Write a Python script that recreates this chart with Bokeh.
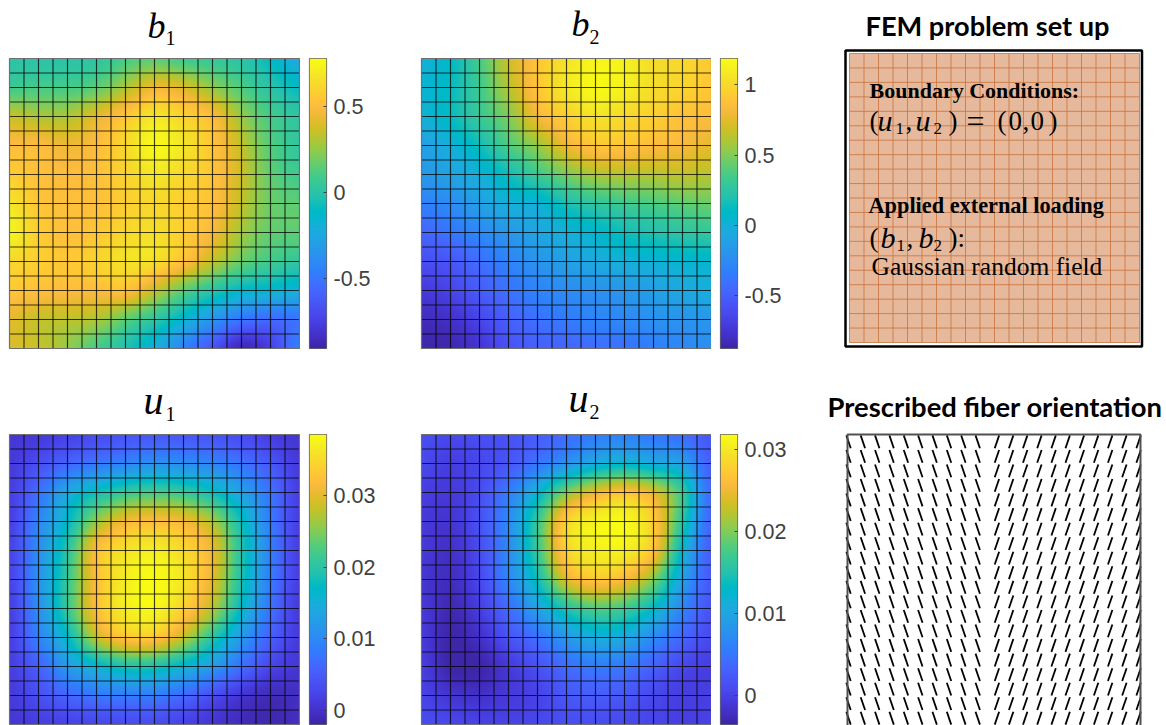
import numpy as np
from bokeh.embed import file_html
from bokeh.resources import INLINE
from bokeh.layouts import column, row
from bokeh.models import FixedTicker, Label, LinearColorMapper, Range1d
from bokeh.plotting import figure

# Field values, at every second mesh node, top row first.
b1_values = [
    [0.00, 0.00, 0.00, 0.02, 0.10, 0.15, 0.08, 0.05, 0.00, -0.10, -0.25],
    [0.08, 0.10, 0.10, 0.15, 0.30, 0.45, 0.40, 0.25, 0.12, 0.00, -0.10],
    [0.35, 0.30, 0.30, 0.42, 0.55, 0.68, 0.60, 0.50, 0.26, 0.10, 0.02],
    [0.50, 0.50, 0.45, 0.50, 0.62, 0.76, 0.68, 0.54, 0.34, 0.13, 0.03],
    [0.58, 0.52, 0.50, 0.52, 0.60, 0.68, 0.62, 0.54, 0.36, 0.16, 0.08],
    [0.68, 0.55, 0.52, 0.52, 0.58, 0.62, 0.58, 0.52, 0.34, 0.18, 0.15],
    [0.74, 0.58, 0.52, 0.55, 0.62, 0.65, 0.58, 0.47, 0.28, 0.16, 0.15],
    [0.62, 0.58, 0.55, 0.60, 0.66, 0.65, 0.52, 0.34, 0.17, 0.08, 0.03],
    [0.55, 0.52, 0.50, 0.50, 0.52, 0.35, 0.15, 0.00, -0.12, -0.15, -0.20],
    [0.42, 0.35, 0.33, 0.30, 0.15, 0.02, -0.15, -0.35, -0.50, -0.55, -0.50],
    [0.40, 0.35, 0.25, 0.10, -0.03, -0.20, -0.45, -0.65, -0.88, -0.75, -0.45],
]
b2_values = [
    [0.00, 0.10, 0.35, 0.68, 0.90, 1.05, 1.15, 1.12, 1.02, 1.00, 0.92],
    [0.03, 0.12, 0.33, 0.62, 0.90, 1.08, 1.17, 1.12, 1.02, 0.98, 0.90],
    [0.00, 0.12, 0.30, 0.50, 0.80, 0.95, 1.05, 1.00, 0.95, 0.88, 0.85],
    [-0.12, 0.00, 0.15, 0.37, 0.55, 0.78, 0.90, 0.90, 0.85, 0.82, 0.75],
    [-0.18, -0.10, 0.00, 0.15, 0.32, 0.48, 0.60, 0.62, 0.62, 0.65, 0.62],
    [-0.32, -0.25, -0.12, 0.00, 0.02, 0.18, 0.27, 0.33, 0.37, 0.42, 0.45],
    [-0.47, -0.38, -0.27, -0.18, -0.08, 0.00, 0.07, 0.15, 0.20, 0.25, 0.28],
    [-0.60, -0.55, -0.42, -0.30, -0.20, -0.12, -0.05, 0.00, 0.02, 0.05, 0.06],
    [-0.72, -0.65, -0.52, -0.40, -0.30, -0.25, -0.22, -0.18, -0.12, -0.06, -0.02],
    [-0.82, -0.78, -0.65, -0.50, -0.40, -0.35, -0.30, -0.27, -0.22, -0.20, -0.18],
    [-0.86, -0.85, -0.75, -0.58, -0.50, -0.47, -0.42, -0.40, -0.33, -0.28, -0.22],
]
u1_values = [
    [0.0005, 0.001, 0.002, 0.003, 0.004, 0.0045, 0.0045, 0.004, 0.003, 0.0015, 0.0005],
    [0.001, 0.0035, 0.006, 0.008, 0.0095, 0.011, 0.0105, 0.0095, 0.0075, 0.0045, 0.001],
    [0.0015, 0.007, 0.014, 0.018, 0.021, 0.022, 0.021, 0.018, 0.013, 0.0075, 0.0015],
    [0.0015, 0.0095, 0.017, 0.026, 0.031, 0.032, 0.031, 0.027, 0.018, 0.0085, 0.0015],
    [0.002, 0.0105, 0.020, 0.032, 0.036, 0.037, 0.035, 0.0305, 0.0195, 0.009, 0.0015],
    [0.002, 0.011, 0.021, 0.032, 0.037, 0.0385, 0.036, 0.030, 0.019, 0.0085, 0.0015],
    [0.0015, 0.0105, 0.021, 0.032, 0.037, 0.038, 0.034, 0.0275, 0.017, 0.0075, 0.001],
    [0.0015, 0.009, 0.017, 0.028, 0.033, 0.033, 0.028, 0.020, 0.012, 0.0055, 0.001],
    [0.0015, 0.0055, 0.012, 0.016, 0.019, 0.019, 0.016, 0.012, 0.007, 0.0025, 0.0005],
    [0.001, 0.0035, 0.006, 0.008, 0.0085, 0.0085, 0.0065, 0.0035, 0.0005, -0.001, -0.0005],
    [0.0005, 0.0015, 0.002, 0.0025, 0.003, 0.003, 0.002, 0.0005, -0.001, -0.0015, -0.0005],
]
u2_values = [
    [0.001, 0.0005, 0.001, 0.0015, 0.0025, 0.004, 0.0055, 0.006, 0.005, 0.004, 0.002],
    [0.0005, -0.0005, 0.0005, 0.002, 0.005, 0.008, 0.011, 0.0125, 0.011, 0.0095, 0.0025],
    [-0.0005, -0.001, 0.001, 0.0055, 0.012, 0.020, 0.0245, 0.0265, 0.024, 0.0165, 0.0035],
    [-0.001, -0.0015, 0.0015, 0.007, 0.0165, 0.028, 0.031, 0.0315, 0.0275, 0.0155, 0.003],
    [-0.001, -0.002, 0.001, 0.007, 0.0165, 0.028, 0.0305, 0.0305, 0.0265, 0.0125, 0.0025],
    [-0.0015, -0.0025, 0.0005, 0.0065, 0.014, 0.024, 0.027, 0.0255, 0.020, 0.0095, 0.002],
    [-0.001, -0.003, -0.0005, 0.004, 0.0095, 0.015, 0.018, 0.017, 0.013, 0.0065, 0.0015],
    [-0.001, -0.0035, -0.002, 0.0015, 0.0045, 0.0085, 0.011, 0.0105, 0.007, 0.0035, 0.0005],
    [-0.0005, -0.0035, -0.0035, -0.001, 0.0015, 0.004, 0.0055, 0.005, 0.003, 0.0005, -0.0005],
    [0.0, -0.0015, -0.002, -0.001, 0.0, 0.002, 0.0025, 0.002, 0.0005, -0.0005, -0.0005],
    [0.001, 0.0005, 0.0, 0.0, 0.0005, 0.001, 0.001, 0.0005, 0.0003, -0.0003, 0.0],
]
b1_limits = (-0.904, 0.776)
b2_limits = (-0.873, 1.185)
u1_limits = (-0.002, 0.0386)
u2_limits = (-0.0036, 0.0318)
b1_ticks = [-0.5, 0, 0.5]
b2_ticks = [-0.5, 0, 0.5, 1]
u1_ticks = [0, 0.01, 0.02, 0.03]
u2_ticks = [0, 0.01, 0.02, 0.03]
b_tick_labels = {-0.5: "-0.5", 0: "0", 0.5: "0.5", 1: "1"}
u_tick_labels = {0: "0", 0.01: "0.01", 0.02: "0.02", 0.03: "0.03"}

fiber_left_columns = [0.07, 1.05, 2.03, 3.01, 3.99, 4.97, 5.95, 6.93, 7.91, 8.89]
fiber_right_columns = [10.2, 11.17, 12.13, 13.1, 14.07, 15.03, 16.0, 16.97, 17.93, 18.9, 19.87]
fiber_rows = [19.5, 18.5, 17.5, 16.5, 15.5, 14.5, 13.5, 12.5, 11.5, 10.5, 9.5, 8.5, 7.5, 6.5, 5.5, 4.5, 3.5, 2.5, 1.5, 0.5, -0.5]
fiber_dx = 0.15
fiber_dy = 0.44

parula_rgb = [
    [0.2422,0.1504,0.6603],[0.2504,0.1650,0.7076],[0.2578,0.1818,0.7511],[0.2647,0.1978,0.7952],
    [0.2706,0.2147,0.8364],[0.2751,0.2342,0.8710],[0.2783,0.2559,0.8991],[0.2803,0.2782,0.9221],
    [0.2813,0.3006,0.9414],[0.2810,0.3228,0.9579],[0.2795,0.3447,0.9717],[0.2760,0.3667,0.9829],
    [0.2699,0.3892,0.9906],[0.2602,0.4123,0.9952],[0.2440,0.4358,0.9988],[0.2206,0.4603,0.9973],
    [0.1963,0.4847,0.9892],[0.1834,0.5074,0.9798],[0.1786,0.5289,0.9682],[0.1764,0.5499,0.9520],
    [0.1687,0.5703,0.9359],[0.1540,0.5902,0.9218],[0.1460,0.6091,0.9079],[0.1380,0.6276,0.8973],
    [0.1248,0.6459,0.8883],[0.1113,0.6635,0.8763],[0.0952,0.6798,0.8598],[0.0689,0.6948,0.8394],
    [0.0297,0.7082,0.8163],[0.0036,0.7203,0.7917],[0.0067,0.7312,0.7660],[0.0433,0.7411,0.7394],
    [0.0964,0.7500,0.7120],[0.1408,0.7584,0.6842],[0.1717,0.7670,0.6554],[0.1938,0.7758,0.6251],
    [0.2161,0.7843,0.5923],[0.2470,0.7918,0.5567],[0.2906,0.7973,0.5188],[0.3406,0.8008,0.4789],
    [0.3909,0.8029,0.4354],[0.4456,0.8024,0.3909],[0.5044,0.7993,0.3480],[0.5616,0.7942,0.3045],
    [0.6174,0.7876,0.2612],[0.6720,0.7793,0.2227],[0.7242,0.7698,0.1910],[0.7738,0.7598,0.1646],
    [0.8203,0.7498,0.1535],[0.8634,0.7406,0.1596],[0.9035,0.7330,0.1774],[0.9393,0.7288,0.2100],
    [0.9728,0.7298,0.2394],[0.9956,0.7434,0.2371],[0.9970,0.7659,0.2199],[0.9952,0.7893,0.2028],
    [0.9892,0.8136,0.1885],[0.9786,0.8386,0.1766],[0.9676,0.8639,0.1643],[0.9610,0.8890,0.1537],
    [0.9597,0.9135,0.1423],[0.9628,0.9373,0.1265],[0.9691,0.9606,0.1064],[0.9769,0.9839,0.0805],
]
_rgb = np.array(parula_rgb)
_pos = np.linspace(0, 1, 256)
_fine = np.column_stack([np.interp(_pos, np.linspace(0, 1, 64), _rgb[:, k]) for k in range(3)])
PALETTE = ["#%02x%02x%02x" % tuple(int(round(c * 255)) for c in r) for r in _fine]

CELL = 14.5
SER = "Liberation Serif"


def shade(a, axis, n):
    """Catmull-Rom shading between nodes, as the original's interpolated shading."""
    a = np.moveaxis(np.asarray(a, dtype=float), axis, 0)
    m = a.shape[0]
    t = (np.arange(n) + 0.5) / n * (m - 1)
    i = np.clip(t.astype(int), 0, m - 2)
    f = (t - i).reshape((-1,) + (1,) * (a.ndim - 1))
    p0, p1, p2, p3 = a[np.maximum(i - 1, 0)], a[i], a[i + 1], a[np.minimum(i + 2, m - 1)]
    out = 0.5 * (2 * p1 + (p2 - p0) * f + (2 * p0 - 5 * p1 + 4 * p2 - p3) * f**2
                 + (3 * p1 - p0 - 3 * p2 + p3) * f**3)
    return np.moveaxis(out, 0, axis)


def label(p, fig_left, fig_bottom, px, py, text, font, size, color="#000000", style="normal"):
    # The Label's text sits about a third of its size below the requested baseline.
    p.add_layout(Label(x=px - fig_left, y=fig_bottom - py + 0.34 * size, x_units="screen", y_units="screen",
                       text=text, text_font=font, text_font_size=f"{size}px", text_color=color,
                       text_font_style=style, text_baseline="alphabetic", text_align="left"))


def heat(values, limits, fig_left, fig_top, width, height, panel_left, panel_top, title):
    L, T = panel_left - fig_left, panel_top - fig_top
    R, B = width - L - 290, height - T - 290
    p = figure(width=width, height=height, min_border=0, x_axis_type=None, y_axis_type=None,
               x_range=Range1d(-L / CELL, 20 + R / CELL), y_range=Range1d(-B / CELL, 20 + T / CELL),
               toolbar_location=None, output_backend="svg", outline_line_color=None,
               background_fill_color="white", border_fill_color="white", frame_align=False)
    p.grid.visible = False
    mapper = LinearColorMapper(palette=PALETTE, low=limits[0], high=limits[1])
    field = shade(shade(np.array(values)[::-1], 0, 290), 1, 290)
    p.image(image=[field], x=0, y=0, dw=20, dh=20, color_mapper=mapper)
    inner = list(range(1, 20))
    p.multi_line(xs=[[n, n] for n in inner] + [[0, 20] for n in inner],
                 ys=[[0, 20] for n in inner] + [[n, n] for n in inner],
                 line_color="#000000", line_alpha=0.75, line_width=1.15)
    p.quad(left=[0], right=[20], bottom=[0], top=[20], fill_color=None,
           line_color="#707070", line_width=1.2)
    fb = fig_top + height
    label(p, fig_left, fb, title["x"], title["y"], title["name"], SER, title["size"], style="italic")
    label(p, fig_left, fb, title["x2"], title["y2"], title["sub"], SER, 20)
    return p


def colorbar(limits, ticks, tick_labels, width, height, left, right, top, bottom):
    p = figure(width=width, height=height, min_border_left=left, min_border_right=right,
               min_border_top=top, min_border_bottom=bottom, x_axis_type=None,
               y_axis_location="right", x_range=Range1d(0, 1), y_range=Range1d(*limits),
               toolbar_location=None, output_backend="svg", outline_line_color="#666666",
               outline_line_width=1.2, border_fill_color="white", frame_align=False)
    p.grid.visible = False
    mapper = LinearColorMapper(palette=PALETTE, low=limits[0], high=limits[1])
    gradient = np.linspace(limits[0], limits[1], 290).reshape(-1, 1)
    p.image(image=[gradient], x=0, y=limits[0], dw=1, dh=limits[1] - limits[0], color_mapper=mapper)
    ax = p.yaxis[0]
    ax.ticker = FixedTicker(ticks=ticks)
    ax.major_label_overrides = {k: tick_labels[k] for k in ticks}
    ax.axis_line_color = None
    ax.major_tick_in = 3
    ax.major_tick_out = 0
    ax.major_tick_line_color = "#404040"
    ax.minor_tick_line_color = None
    ax.major_label_standoff = 7
    ax.major_label_text_font = "Liberation Sans"
    ax.major_label_text_font_size = "21.5px"
    ax.major_label_text_color = "#404040"
    return p


p_b1 = heat(b1_values, b1_limits, 0, 0, 300, 375, 9, 58,
            dict(name="b", sub="1", size=36, x=147, y=38, x2=165, y2=44))
c_b1 = colorbar(b1_limits, b1_ticks, b_tick_labels, 110, 375, 9, 84, 58, 27)
p_b2 = heat(b2_values, b2_limits, 410, 0, 301, 375, 421, 58,
            dict(name="b", sub="2", size=36, x=571, y=36, x2=589, y2=43))
c_b2 = colorbar(b2_limits, b2_ticks, b_tick_labels, 89, 375, 9, 63, 58, 27)

p_u1 = heat(u1_values, u1_limits, 0, 375, 300, 350, 9, 434,
            dict(name="u", sub="1", size=40, x=143, y=414, x2=165, y2=420))
c_u1 = colorbar(u1_limits, u1_ticks, u_tick_labels, 110, 350, 9, 84, 59, 1)
p_u2 = heat(u2_values, u2_limits, 410, 375, 301, 350, 421, 434,
            dict(name="u", sub="2", size=40, x=568, y=412, x2=589, y2=418))
c_u2 = colorbar(u2_limits, u2_ticks, u_tick_labels, 89, 350, 9, 63, 59, 1)

# FEM panel
fem = figure(width=366, height=375, min_border=0, x_axis_type=None, y_axis_type=None,
             x_range=Range1d(-49 / CELL, 20 + 27 / CELL), y_range=Range1d(-33 / 14.45, 20 + 53 / 14.45),
             toolbar_location=None, output_backend="svg", outline_line_color=None,
             background_fill_color="white", border_fill_color="white", frame_align=False)
fem.grid.visible = False
fem.quad(left=[-4 / CELL], right=[20 + 2.5 / CELL], bottom=[-4 / 14.45], top=[20 + 3 / 14.45],
         fill_color="white", line_color="#000000", line_width=2.5)
fem.quad(left=[0], right=[20], bottom=[0], top=[20], fill_color="#e6b99c", line_color=None)
_n = list(range(21))
fem.multi_line(xs=[[n, n] for n in _n] + [[0, 20] for n in _n],
               ys=[[0, 20] for n in _n] + [[n, n] for n in _n],
               line_color="#c8723c", line_alpha=0.8, line_width=1)
F = (800, 375)
label(fem, *F, 865, 34, "FEM problem set up", "Lato", 27.2, style="bold")
label(fem, *F, 869, 97, "Boundary Conditions:", SER, 22, style="bold")
for x, txt, st, sz, y in [(869, "(", "normal", 27, 130), (877, "u", "italic", 30, 130),
                          (895, "1", "normal", 17, 134), (905, ",", "normal", 27, 130),
                          (915, "u", "italic", 30, 130), (933, "2", "normal", 17, 134),
                          (948, ")", "normal", 27, 130), (966, "=", "normal", 32, 131),
                          (997, "(", "normal", 27, 130), (1008, "0", "normal", 27, 130),
                          (1022, ",", "normal", 27, 130), (1030, "0", "normal", 27, 130),
                          (1048, ")", "normal", 27, 130)]:
    label(fem, *F, x, y, txt, SER, sz, style=st)
label(fem, *F, 868, 213, "Applied external loading", SER, 22.3, style="bold")
for x, txt, st, sz, y in [(869, "(", "normal", 27, 247), (880, "b", "italic", 30, 247),
                          (896, "1", "normal", 17, 251), (906, ",", "normal", 27, 247),
                          (918, "b", "italic", 30, 247), (933, "2", "normal", 17, 251),
                          (948, ")", "normal", 27, 247), (957, ":", "normal", 27, 247)]:
    label(fem, *F, x, y, txt, SER, sz, style=st)
label(fem, *F, 871, 275, "Gaussian random field", SER, 25.5)

# Fibre panel
fib = figure(width=366, height=350, min_border=0, x_axis_type=None, y_axis_type=None,
             x_range=Range1d(-47 / 14.65, 20 + 26 / 14.65), y_range=Range1d(0, 20 + 59 / 14.55),
             toolbar_location=None, output_backend="svg", outline_line_color=None,
             border_fill_color="white", frame_align=False)
fib.grid.visible = False
x0, y0, x1, y1 = [], [], [], []
for r in fiber_rows:
    for c in fiber_left_columns:
        x0.append(c - fiber_dx); y0.append(r + fiber_dy); x1.append(c + fiber_dx); y1.append(r - fiber_dy)
    for c in fiber_right_columns:
        x0.append(c + fiber_dx); y0.append(r + fiber_dy); x1.append(c - fiber_dx); y1.append(r - fiber_dy)
fib.segment(x0=x0, y0=y0, x1=x1, y1=y1, line_color="#000000", line_width=1.8)
fib.line(x=[0, 0, 20, 20], y=[0, 20, 20, 0], line_color="#505050", line_width=2)
label(fib, 800, 725, 827, 415.5, "Prescribed fiber orientation", "Lato", 27.4, style="bold")

layout = column(row(p_b1, c_b1, p_b2, c_b2, fem, spacing=0),
                row(p_u1, c_u1, p_u2, c_u2, fib, spacing=0), spacing=0)
open("out.html", "w").write(file_html(layout, INLINE))
